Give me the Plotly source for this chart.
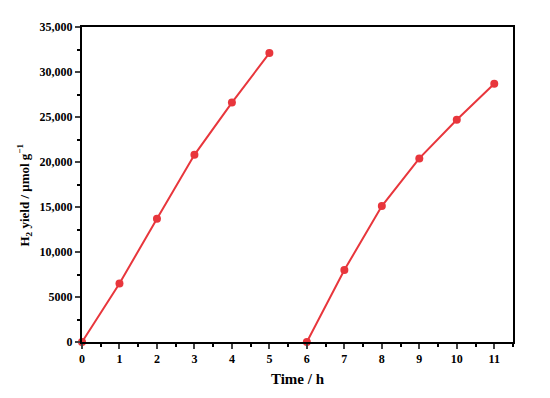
import plotly.graph_objects as go

time_run1 = [0, 1, 2, 3, 4, 5]
yield_run1 = [0, 6500, 13700, 20800, 26600, 32100]
time_run2 = [6, 7, 8, 9, 10, 11]
yield_run2 = [0, 8000, 15100, 20400, 24700, 28700]

y_tickvals = [0, 5000, 10000, 15000, 20000, 25000, 30000, 35000]
y_ticktext = ["0", "5000", "10,000", "15,000", "20,000", "25,000", "30,000", "35,000"]
x_tickvals = list(range(0, 12))

color = "#e8363c"
font = dict(family="Liberation Serif", size=12, color="black")

fig = go.Figure()
for xs, ys in [(time_run1, yield_run1), (time_run2, yield_run2)]:
    fig.add_trace(go.Scatter(x=xs, y=ys, mode="lines+markers",
                             line=dict(color=color, width=2),
                             marker=dict(color=color, size=8),
                             showlegend=False, cliponaxis=False))

fig.update_layout(
    width=542, height=390,
    margin=dict(l=74, r=37, t=14, b=56),
    plot_bgcolor="white", paper_bgcolor="white",
    font=font,
)
fig.add_annotation(
    text="<b>H<sub>2</sub> yield / μmol g<sup>−1</sup></b>",
    xref="paper", yref="paper", x=0, y=0.5, xanchor="center", yanchor="middle",
    xshift=-58, yshift=-11, textangle=-90, showarrow=False,
    font=dict(family="Liberation Serif", size=13, color="black"),
)
fig.update_xaxes(
    range=[0, 11.5], tickvals=x_tickvals, ticks="outside", ticklen=5, tickwidth=1.5,
    showline=True, linecolor="black", linewidth=2, mirror=True, showgrid=False, zeroline=False,
    tickfont=dict(family="Liberation Serif", size=12, color="black", weight="bold"),
    title=dict(text="<b>Time / h</b>", font=dict(family="Liberation Serif", size=15), standoff=8),
    minor=dict(dtick=0.5, ticks="outside", ticklen=3, tickwidth=1.5, tickcolor="black"),
)
fig.update_yaxes(
    range=[0, 35000], tickvals=y_tickvals, ticktext=y_ticktext, ticks="outside", ticklen=5, tickwidth=1.5,
    showline=True, linecolor="black", linewidth=2, mirror=True, showgrid=False, zeroline=False,
    tickfont=dict(family="Liberation Serif", size=12, color="black", weight="bold"),
    minor=dict(tickvals=[2500, 7500, 12500, 17500, 22500, 27500, 32500], ticks="outside", ticklen=3, tickwidth=1.5, tickcolor="black"),
)

fig.write_html("out.html")
